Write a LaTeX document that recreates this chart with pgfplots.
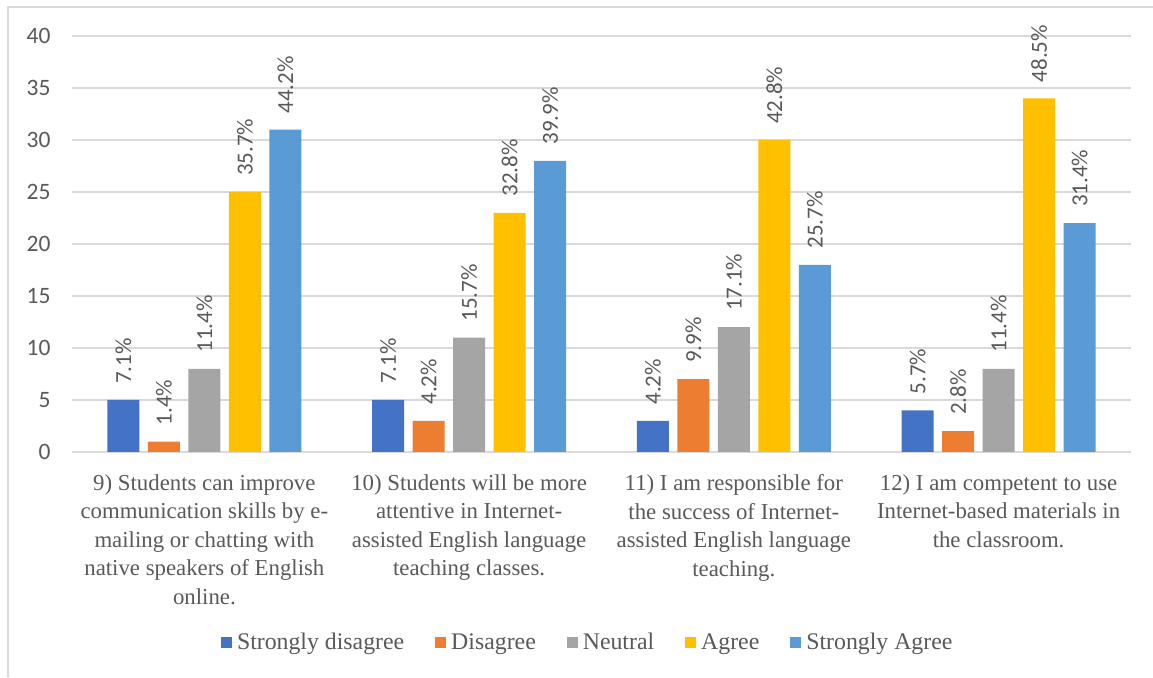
\documentclass[border=0pt]{standalone}
\usepackage{fontspec}
\setmainfont{Liberation Serif}
\newfontfamily\carlito{Carlito}
\usepackage{pgfplots}
\pgfplotsset{compat=1.18}
\definecolor{c1}{HTML}{4472C4}
\definecolor{c2}{HTML}{ED7D31}
\definecolor{c3}{HTML}{A5A5A5}
\definecolor{c4}{HTML}{FFC000}
\definecolor{c5}{HTML}{5B9BD5}
\definecolor{txt}{HTML}{595959}
\definecolor{gridc}{HTML}{D9D9D9}
\begin{document}
\begin{tikzpicture}[x=1pt,y=1pt]
\useasboundingbox (0,0) rectangle (1153,677);
\draw[gridc, line width=1.5pt] (8,0) -- (8,670) -- (1153,670);
\begin{axis}[
  at={(72pt,225pt)}, anchor=south west,
  scale only axis, width=1059pt, height=416pt,
  xmin=-0.5, xmax=3.5, ymin=0, ymax=40,
  ytick={0,5,...,40},
  xtick={0,1,2,3},
  /pgf/number format/assume math mode=true,
  xticklabels={
    {9) Students can improve\\communication skills by e-\\mailing or chatting with\\native speakers of English\\online.},
    {10) Students will be more\\attentive in Internet-\\assisted English language\\teaching classes.},
    {11) I am responsible for\\the success of Internet-\\assisted English language\\teaching.},
    {12) I am competent to use\\Internet-based materials in\\the classroom.}},
  xticklabel style={align=center, font=\fontsize{22.8}{28.5}\selectfont, text=txt, anchor=north, yshift=-19pt},
  yticklabel style={font=\carlito\fontsize{23.5}{26}\selectfont, text=txt, xshift=-18pt},
  ymajorgrids, grid style={gridc, line width=1.3pt},
  axis line style={draw=none},
  major tick length=0pt,
  ybar, bar width=0.121, bar shift=0pt,
  nodes near coords,
  point meta=explicit symbolic,
  every node near coord/.append style={rotate=90, anchor=west, font=\carlito\fontsize{23}{26}\selectfont, text=txt, inner xsep=16pt, inner ysep=0pt},
  legend columns=5,
  legend style={at={(0.487,-0.457)}, anchor=center, draw=none, font=\fontsize{23.8}{27}\selectfont, text=txt,
    /tikz/every even column/.append style={column sep=29pt}},
  legend image code/.code={\fill[#1] (0pt,-5.5pt) rectangle (11pt,5.5pt); \path (0pt,0pt) -- (14pt,0pt);},
]
\addplot[fill=c1, draw=none] coordinates {(-0.306,5) [7.1\%] (0.694,5) [7.1\%] (1.694,3) [4.2\%] (2.694,4) [5.7\%]};
\addplot[fill=c2, draw=none] coordinates {(-0.153,1) [1.4\%] (0.847,3) [4.2\%] (1.847,7) [9.9\%] (2.847,2) [2.8\%]};
\addplot[fill=c3, draw=none] coordinates {(0,8) [11.4\%] (1,11) [15.7\%] (2,12) [17.1\%] (3,8) [11.4\%]};
\addplot[fill=c4, draw=none] coordinates {(0.153,25) [35.7\%] (1.153,23) [32.8\%] (2.153,30) [42.8\%] (3.153,34) [48.5\%]};
\addplot[fill=c5, draw=none] coordinates {(0.306,31) [44.2\%] (1.306,28) [39.9\%] (2.306,18) [25.7\%] (3.306,22) [31.4\%]};
\legend{Strongly disagree, Disagree, Neutral, Agree, Strongly Agree}
\end{axis}
\end{tikzpicture}
\end{document}
